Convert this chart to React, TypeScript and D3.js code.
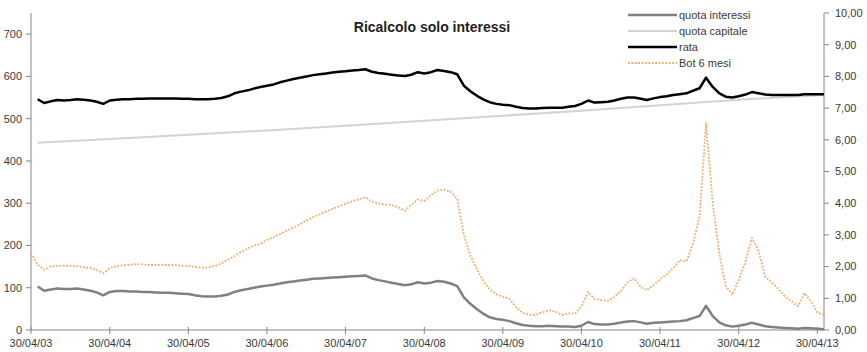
import React from "react";
import * as d3 from "d3";

// Monthly observations, month-end dates starting 30/04/2003 (index 0)
const MONTH_COUNT = 122;

// Bot 6 mesi yield (%), index 0 = 30/04/2003 … index 121 = 31/05/2013
const botValues = [
  2.42, 2.06, 1.9, 2.0, 2.02, 2.03, 2.02, 2.01, 1.98, 1.96,
  1.89, 1.79, 1.95, 2.01, 2.04, 2.06, 2.08, 2.07, 2.05, 2.05,
  2.05, 2.05, 2.05, 2.03, 2.02, 1.99, 1.97, 1.97, 2.02, 2.1,
  2.22, 2.33, 2.47, 2.57, 2.66, 2.72, 2.84, 2.93, 3.03, 3.13,
  3.23, 3.33, 3.46, 3.56, 3.65, 3.74, 3.82, 3.9, 3.98, 4.06,
  4.12, 4.19, 4.05, 3.99, 3.96, 3.94, 3.87, 3.76, 3.95, 4.12,
  4.07, 4.25, 4.4, 4.43, 4.36, 4.15, 3.0, 2.35, 1.9, 1.52,
  1.28, 1.13, 1.05, 0.98, 0.72, 0.54, 0.48, 0.48, 0.56, 0.63,
  0.58, 0.47, 0.53, 0.52, 0.74, 1.2, 0.98, 0.94, 0.92, 1.04,
  1.24, 1.5, 1.63, 1.35, 1.26, 1.42, 1.6, 1.75, 1.95, 2.2,
  2.17, 2.7, 3.6, 6.52, 4.0, 2.4, 1.4, 1.11, 1.58, 2.15,
  2.9, 2.5, 1.68, 1.5, 1.3, 1.06, 0.9, 0.75, 1.16, 0.92,
  0.55, 0.47,
];

// Rata (€), index 1 = 31/05/2003 … index 121 = 31/05/2013
const rataValues = [
  null,
  546, 537, 541, 544, 543, 544, 546, 545, 543, 540,
  535, 543, 545, 546, 546, 547, 547, 548, 548, 548,
  548, 548, 547, 547, 546, 546, 546, 547, 549, 553,
  560, 564, 567, 571, 575, 578, 581, 586, 590, 594,
  597, 600, 603, 605, 607, 609, 611, 612, 614, 615,
  617, 611, 608, 606, 604, 602, 601, 604, 610, 607,
  610, 615, 613, 610, 605, 578, 565, 554, 545, 539,
  535, 533, 532, 528, 525, 524, 524, 525, 526, 526,
  526, 528, 530, 535, 543, 538, 539, 540, 543, 547,
  550, 550, 547, 544, 548, 551, 553, 556, 558, 560,
  566, 572, 597, 575, 560, 552, 550, 553, 557, 563,
  560, 557, 556, 556, 556, 556, 556, 558, 558, 558, 558,
];

// Quota interessi (€), same months as rata
const interessiValues = [
  null,
  103, 93, 96, 98, 97, 97, 98, 96, 93, 89,
  82, 90, 92, 92, 91, 91, 90, 90, 89, 88,
  88, 87, 86, 85, 82, 80, 79, 79, 81, 84,
  90, 94, 97, 100, 103, 105, 107, 110, 113, 115,
  117, 119, 121, 122, 123, 124, 125, 126, 127, 128,
  129, 122, 118, 115, 112, 109, 106, 108, 113, 110,
  112, 116, 114, 110, 104, 77, 62, 49, 38, 30,
  26, 24, 21, 16, 12, 10, 9, 9, 10, 9,
  8, 8, 7, 10, 19, 14, 13, 13, 15, 18,
  20, 21, 18, 15, 17, 18, 19, 20, 21, 23,
  28, 33, 57, 33, 18, 11, 8, 10, 13, 17,
  13, 9, 7, 6, 5, 4, 3, 5, 4, 3, 2,
];

// Quota capitale (€): a steadily rising amortisation share
const capitaleMonthIdx = [1, 12, 24, 36, 48, 60, 72, 84, 96, 108, 121];
const capitaleValues = [443, 452, 462, 472, 483, 495, 507, 519, 532, 545, 556];

const tickYears = d3.range(2003, 2014);
const leftTicks = d3.range(0, 701, 100);
const rightTicks = d3.range(0, 11, 1);

const TITLE = "Ricalcolo solo interessi";
const legendItems = [
  { key: "interessi", label: "quota interessi" },
  { key: "capitale", label: "quota capitale" },
  { key: "rata", label: "rata" },
  { key: "bot", label: "Bot 6 mesi" },
];

const W = 867;
const H = 352;
const FONT = "'Liberation Sans', Arial, sans-serif";

const monthEnd = (i: number) => new Date(Date.UTC(2003, 4 + i, 0));
const months = d3.range(MONTH_COUNT).map(monthEnd);

const styles: Record<string, { stroke: string; width: number; dash?: string }> = {
  interessi: { stroke: "#808080", width: 2.5 },
  capitale: { stroke: "#d3d3d3", width: 2 },
  rata: { stroke: "#000000", width: 2.5 },
  bot: { stroke: "#f3ab6c", width: 1.8, dash: "1.8 1.6" },
};

const commaLocale = d3.formatLocale({
  decimal: ",",
  thousands: ".",
  grouping: [3],
  currency: ["€", ""],
});
const fmtRight = commaLocale.format(".2f");
const fmtDate = d3.utcFormat("%d/%m/%y");

export default function App() {
  const left = 31;
  const right = 824;
  const top = 13;
  const bottom = 330;

  const x = d3.scaleUtc().domain([months[0], months[MONTH_COUNT - 1]]).range([left, right]);
  const yL = d3.scaleLinear().domain([0, 750]).range([bottom, top]);
  const yR = d3.scaleLinear().domain([0, 10]).range([bottom, top]);

  type Pt = { d: Date; v: number | null };
  const lineL = d3
    .line<Pt>()
    .defined((p) => p.v != null)
    .x((p) => x(p.d))
    .y((p) => yL(p.v as number));
  const lineR = d3
    .line<Pt>()
    .defined((p) => p.v != null)
    .x((p) => x(p.d))
    .y((p) => yR(p.v as number));

  const toPts = (vals: (number | null)[]) => vals.map((v, i) => ({ d: months[i], v }));
  const capPts = capitaleMonthIdx.map((mi, i) => ({ d: months[mi], v: capitaleValues[i] }));

  const axisColor = "#868686";
  const textColor = "#3a3a3a";

  const legendX0 = 628;
  const legendX1 = 677;
  const legendY0 = 15;
  const legendStep = 16;

  return (
    <svg
      width={W}
      height={H}
      viewBox={`0 0 ${W} ${H}`}
      style={{ position: "absolute", left: 0, top: 0, background: "#fff" }}
      fontFamily={FONT}
    >
      <rect x={0} y={0} width={W} height={H} fill="#fff" />

      {/* axes */}
      <line x1={left} x2={left} y1={top} y2={bottom} stroke={axisColor} strokeWidth={1} />
      <line x1={right} x2={right} y1={top} y2={bottom} stroke={axisColor} strokeWidth={1} />
      <line x1={left} x2={right} y1={bottom} y2={bottom} stroke={axisColor} strokeWidth={1} />

      {leftTicks.map((t) => (
        <g key={`l${t}`}>
          <line x1={left - 5} x2={left} y1={yL(t)} y2={yL(t)} stroke={axisColor} />
          <text x={22} y={yL(t)} dy="0.35em" textAnchor="end" fontSize={11} fill={textColor}>
            {t}
          </text>
        </g>
      ))}

      {rightTicks.map((t) => (
        <g key={`r${t}`}>
          <line x1={right} x2={right + 5} y1={yR(t)} y2={yR(t)} stroke={axisColor} />
          <text x={835} y={yR(t)} dy="0.35em" textAnchor="start" fontSize={11} fill={textColor}>
            {fmtRight(t)}
          </text>
        </g>
      ))}

      {tickYears.map((yr) => {
        const d = monthEnd((yr - 2003) * 12);
        const xx = x(d);
        return (
          <g key={`x${yr}`}>
            <line x1={xx} x2={xx} y1={bottom - 3} y2={bottom + 4} stroke={axisColor} />
            <text x={xx} y={347} textAnchor="middle" fontSize={11} fill={textColor}>
              {fmtDate(d)}
            </text>
          </g>
        );
      })}

      {/* series */}
      <path
        d={lineL(toPts(interessiValues)) || ""}
        fill="none"
        stroke={styles.interessi.stroke}
        strokeWidth={styles.interessi.width}
        strokeLinejoin="round"
      />
      <path
        d={lineL(capPts) || ""}
        fill="none"
        stroke={styles.capitale.stroke}
        strokeWidth={styles.capitale.width}
        strokeLinejoin="round"
      />
      <path
        d={lineL(toPts(rataValues)) || ""}
        fill="none"
        stroke={styles.rata.stroke}
        strokeWidth={styles.rata.width}
        strokeLinejoin="round"
      />
      <path
        d={lineR(toPts(botValues)) || ""}
        fill="none"
        stroke={styles.bot.stroke}
        strokeWidth={styles.bot.width}
        strokeDasharray={styles.bot.dash}
        strokeLinejoin="round"
      />

      {/* title */}
      <text x={432} y={32} textAnchor="middle" fontSize={14} fontWeight="bold" fill="#222">
        {TITLE}
      </text>

      {/* legend */}
      {legendItems.map((it, i) => {
        const yy = legendY0 + i * legendStep;
        const s = styles[it.key];
        return (
          <g key={it.key}>
            <line
              x1={legendX0}
              x2={legendX1}
              y1={yy}
              y2={yy}
              stroke={s.stroke}
              strokeWidth={s.width}
              strokeDasharray={s.dash}
            />
            <text x={legendX1 + 2} y={yy} dy="0.35em" fontSize={11} fill={textColor}>
              {it.label}
            </text>
          </g>
        );
      })}
    </svg>
  );
}
